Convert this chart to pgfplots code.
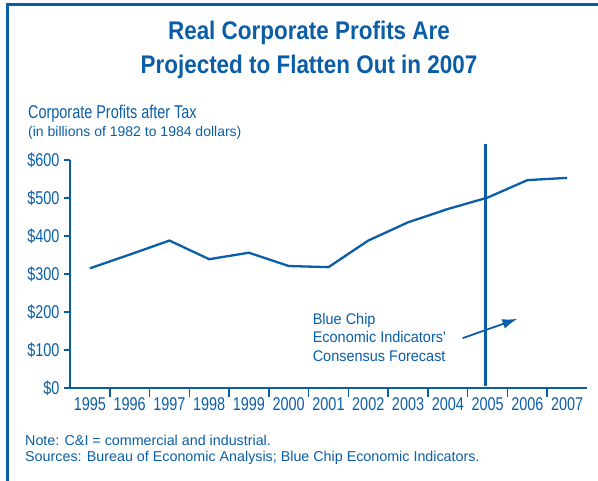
\documentclass[border=0pt]{standalone}
\usepackage{fontspec}
\setmainfont{Liberation Sans}
\newfontfamily\fA{Liberation Sans}[FakeStretch=0.88]
\newfontfamily\fB{Liberation Sans}[FakeStretch=0.78]
\newfontfamily\fC{Liberation Sans}[FakeStretch=0.94]
\usepackage{pgfplots}
\pgfplotsset{compat=1.18}
\usetikzlibrary{arrows.meta}
\definecolor{cblue}{RGB}{10,94,168}
\begin{document}
\begin{tikzpicture}[x=1pt,y=1pt]
\useasboundingbox (0,0) rectangle (598,481);
% frame
\draw[cblue,line width=3pt] (7,476) -- (598,476);
\draw[cblue,line width=3pt] (7,477.5) -- (7,0);
% title
\node[cblue,align=center,font=\fA\fontsize{25.5}{34}\selectfont\bfseries] at (309,431) {Real Corporate Profits Are\\Projected to Flatten Out in 2007};
% y label
\node[cblue,anchor=west,font=\fB\fontsize{18.5}{20}\selectfont,inner sep=0] at (28,367) {Corporate Profits after Tax};
\node[cblue,anchor=west,font=\fontsize{14}{16}\selectfont,inner sep=0] at (28,348) {(in billions of 1982 to 1984 dollars)};
% notes
\node[cblue,anchor=west,font=\fontsize{14.3}{16}\selectfont,inner sep=0] at (25,41) {Note: C\&I = commercial and industrial.};
\node[cblue,anchor=west,font=\fontsize{14.3}{16}\selectfont,inner sep=0] at (25,23) {Sources: Bureau of Economic Analysis; Blue Chip Economic Indicators.};
\begin{axis}[
  at={(70pt,93pt)}, anchor=south west,
  scale only axis, width=517pt, height=228pt,
  xmin=-0.5, xmax=12.5, ymin=0, ymax=600,
  axis lines=left, axis line style={cblue,line width=2pt,-},
  clip=false,
  xtick={0,...,12},
  xticklabels={1995,1996,1997,1998,1999,2000,2001,2002,2003,2004,2005,2006,2007},
  major x tick style={draw=none},
  minor xtick={0.5,1.5,...,11.5},
  minor tick length=9pt,
  minor x tick style={cblue,line width=1.5pt},
  ytick={0,100,...,600},
  yticklabels={\$0,\$100,\$200,\$300,\$400,\$500,\$600},
  major tick length=6pt,
  y tick style={cblue,line width=1.5pt},
  tick align=outside,
  xtick pos=bottom, ytick pos=left,
  tick label style={cblue,font=\fB\fontsize{18.5}{20}\selectfont},
  yticklabel style={xshift=-1pt},
  xticklabel style={yshift=0pt},
]
\addplot[cblue,line width=2.3pt] coordinates {
(0,315) (1,351) (2,388) (3,339) (4,356) (5,321) (6,318) (7,388) (8,436) (9,471) (10,501) (11,547) (12,553)};
\draw[cblue,line width=2.3pt] (axis cs:9.95,5) -- (axis cs:9.95,642);
\node[cblue,anchor=west,align=left,font=\fC\fontsize{15.4}{18.5}\selectfont,inner sep=0] at (axis cs:5.6,134) {Blue Chip\\Economic Indicators'\\Consensus Forecast};
\draw[cblue,line width=1.8pt,-{Latex[length=15pt,width=10pt]}] (axis cs:9.37,131) -- (axis cs:10.75,182);
\end{axis}
\end{tikzpicture}
\end{document}
